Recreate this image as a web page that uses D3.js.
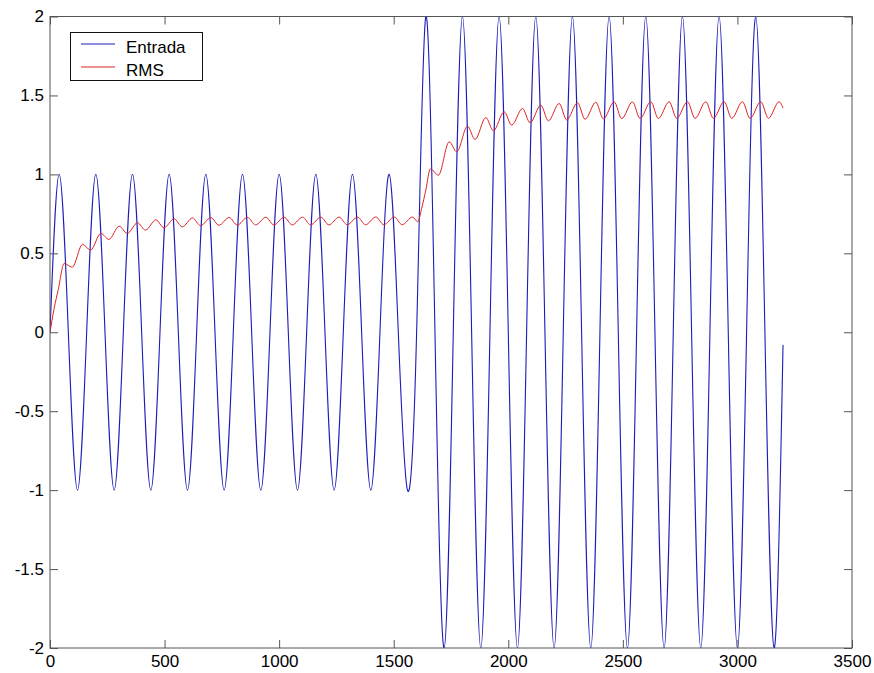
<html>
  <head>
        <meta charset="utf-8">
        <title>Entrada / RMS</title>
  </head>
<style>
	body { margin: 0; background: #fff; overflow: hidden; }
	#chart text { font-family: "Liberation Sans", Arial, sans-serif; font-size: 17px; fill: #000; }
</style>
<body>
<div id="chart"></div>

<script src="https://cdn.jsdelivr.net/npm/d3@7/dist/d3.min.js"></script>
<script>
	// eje x / eje y
	var xTicks = [0, 500, 1000, 1500, 2000, 2500, 3000, 3500];
	var yTicks = [-2, -1.5, -1, -0.5, 0, 0.5, 1, 1.5, 2];

	// Entrada: puntos leidos cada 40 muestras (cero, pico, cero, valle...)
	var entradaT = [0, 40, 80, 120, 160, 200, 240, 280, 320, 360,
		400, 440, 480, 520, 560, 600, 640, 680, 720, 760,
		800, 840, 880, 920, 960, 1000, 1040, 1080, 1120, 1160,
		1200, 1240, 1280, 1320, 1360, 1400, 1440, 1480, 1520, 1560,
		1600, 1640, 1680, 1720, 1760, 1800, 1840, 1880, 1920, 1960,
		2000, 2040, 2080, 2120, 2160, 2200, 2240, 2280, 2320, 2360,
		2400, 2440, 2480, 2520, 2560, 2600, 2640, 2680, 2720, 2760,
		2800, 2840, 2880, 2920, 2960, 3000, 3040, 3080, 3120, 3160,
		3199];
	var entradaV = [0, 1, 0, -1, 0, 1, 0, -1, 0, 1,
		0, -1, 0, 1, 0, -1, 0, 1, 0, -1,
		0, 1, 0, -1, 0, 1, 0, -1, 0, 1,
		0, -1, 0, 1, 0, -1, 0, 1, 0, -1,
		0, 2, 0, -2, 0, 2, 0, -2, 0, 2,
		0, -2, 0, 2, 0, -2, 0, 2, 0, -2,
		0, 2, 0, -2, 0, 2, 0, -2, 0, 2,
		0, -2, 0, 2, 0, -2, 0, 2, 0, -2,
		-0.08];

	// RMS: picos y valles del rizado
	var rmsT = [0, 18, 36, 62, 97, 142, 177, 222, 257, 302,
		337, 382, 417, 462, 497, 542, 577, 622, 657, 702,
		737, 782, 817, 862, 897, 942, 977, 1022, 1057, 1102,
		1137, 1182, 1217, 1262, 1297, 1342, 1377, 1422, 1457, 1502,
		1537, 1582, 1605, 1622, 1640, 1660, 1695, 1742, 1775, 1822,
		1855, 1902, 1935, 1982, 2015, 2062, 2095, 2142, 2175, 2222,
		2255, 2302, 2335, 2382, 2415, 2462, 2495, 2542, 2575, 2622,
		2655, 2702, 2735, 2782, 2815, 2862, 2895, 2942, 2975, 3022,
		3055, 3102, 3135, 3182, 3199];
	var rmsV = [0, 0.15, 0.27, 0.436, 0.412, 0.557, 0.52, 0.626, 0.588, 0.672,
		0.626, 0.693, 0.647, 0.712, 0.662, 0.718, 0.668, 0.724, 0.675, 0.726,
		0.678, 0.727, 0.679, 0.728, 0.68, 0.728, 0.68, 0.728, 0.68, 0.729,
		0.68, 0.729, 0.68, 0.729, 0.681, 0.729, 0.681, 0.73, 0.681, 0.73,
		0.681, 0.73, 0.70, 0.785, 0.90, 1.035, 0.995, 1.206, 1.143, 1.305,
		1.221, 1.36, 1.276, 1.396, 1.312, 1.417, 1.327, 1.438, 1.339, 1.449,
		1.345, 1.454, 1.349, 1.457, 1.352, 1.459, 1.353, 1.459, 1.354, 1.46,
		1.354, 1.46, 1.355, 1.46, 1.355, 1.46, 1.355, 1.46, 1.355, 1.46,
		1.355, 1.46, 1.355, 1.46, 1.42];

	var leyenda = ["Entrada", "RMS"];
	var colores = ["#1c1cb8", "#dd2424"];

	var width = 874;
	var height = 673;
	// ojo: "top" es global de window, por eso mLeft/mTop...
	var mLeft = 50, mRight = 852, mTop = 16.5, mBottom = 648;
	var axisColor = "#555";

	var svg = d3.select("#chart").append("svg")
		.attr("width", width)
		.attr("height", height);

	var x = d3.scaleLinear().domain([0, 3500]).range([mLeft, mRight]);
	var y = d3.scaleLinear().domain([-2, 2]).range([mBottom, mTop]);

	svg.append("clipPath").attr("id", "clip")
		.append("rect")
		.attr("x", mLeft).attr("y", mTop)
		.attr("width", mRight - mLeft).attr("height", mBottom - mTop);

	// curvas
	var entrada = entradaT.map(function(t, i) { return [t, entradaV[i]]; });
	var rms = rmsT.map(function(t, i) { return [t, rmsV[i]]; });

	var lineaE = d3.line().x(function(d) { return x(d[0]); }).y(function(d) { return y(d[1]); })
		.curve(d3.curveNatural);
	var lineaR = d3.line().x(function(d) { return x(d[0]); }).y(function(d) { return y(d[1]); })
		.curve(d3.curveMonotoneX);

	var plot = svg.append("g").attr("clip-path", "url(#clip)");
	plot.append("path").datum(entrada)
		.attr("d", lineaE)
		.attr("fill", "none")
		.attr("stroke", colores[0])
		.attr("stroke-width", 1.1);
	plot.append("path").datum(rms)
		.attr("d", lineaR)
		.attr("fill", "none")
		.attr("stroke", colores[1])
		.attr("stroke-width", 1);

	// ejes (ticks hacia dentro, estilo caja)
	function fmt(d) { return String(d); }

	var gx = svg.append("g").attr("transform", "translate(0," + mBottom + ")")
		.call(d3.axisBottom(x).tickValues(xTicks).tickSize(-8).tickPadding(7).tickFormat(fmt));
	var gxt = svg.append("g").attr("transform", "translate(0," + mTop + ")")
		.call(d3.axisTop(x).tickValues(xTicks).tickSize(-8).tickFormat(""));
	var gy = svg.append("g").attr("transform", "translate(" + mLeft + ",0)")
		.call(d3.axisLeft(y).tickValues(yTicks).tickSize(-8).tickPadding(6).tickFormat(fmt));
	var gyr = svg.append("g").attr("transform", "translate(" + mRight + ",0)")
		.call(d3.axisRight(y).tickValues(yTicks).tickSize(-8).tickFormat(""));

	[gx, gxt, gy, gyr].forEach(function(g) {
		g.select(".domain").remove();
		g.selectAll(".tick line").attr("stroke", axisColor);
		g.selectAll("text").attr("font-size", null).attr("font-family", null);
	});

	svg.append("rect")
		.attr("x", mLeft).attr("y", mTop)
		.attr("width", mRight - mLeft).attr("height", mBottom - mTop)
		.attr("fill", "none")
		.attr("stroke", axisColor)
		.attr("stroke-width", 1);

	// leyenda
	var lg = svg.append("g");
	lg.append("rect")
		.attr("x", 70.5).attr("y", 32.5).attr("width", 132).attr("height", 48)
		.attr("fill", "#fff").attr("stroke", "#111");
	leyenda.forEach(function(nombre, i) {
		var yy = 44 + i * 23;
		lg.append("line")
			.attr("x1", 81).attr("x2", 115).attr("y1", yy).attr("y2", yy)
			.attr("stroke", colores[i]).attr("stroke-width", 1);
		lg.append("text")
			.attr("x", 126).attr("y", yy + 8.5)
			.text(nombre);
	});
</script>
</body>
</html>
